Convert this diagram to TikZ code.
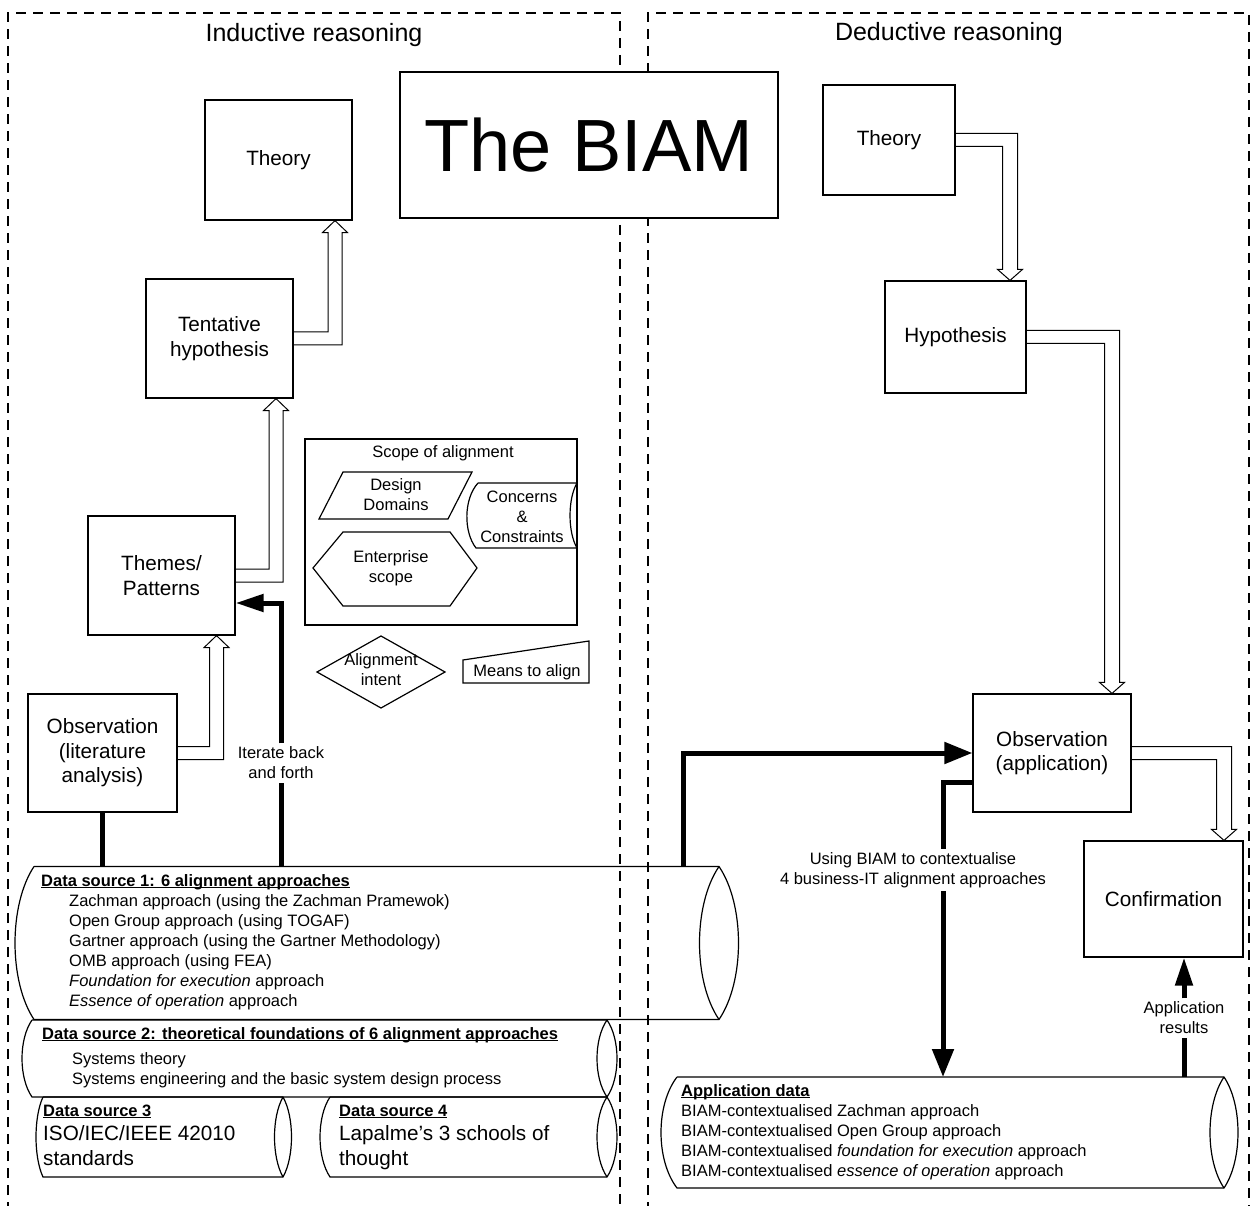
\documentclass[tikz,border=0pt]{standalone}
\usepackage{fontspec}
\setmainfont{Liberation Sans}
\usetikzlibrary{calc, arrows.meta}
\newcommand{\dsfont}{\fontsize{16.5}{20}\selectfont}
\newcommand{\boxfont}{\fontsize{20.7}{24.5}\selectfont}
\newcommand{\reasonfont}{\fontsize{25}{30}\selectfont}
\newcommand{\biamfont}{\fontsize{74}{80}\selectfont}
\newcommand{\ulbf}[1]{\setbox0\hbox{\bfseries #1}\rlap{\rule[-2.3pt]{\wd0}{1.2pt}}\box0}
% horizontal drum: node, left bulge, right bulge
\newcommand{\drumoutline}[3]{%
  \draw[line width=1.2pt] (#1.north west) -- (#1.north east)
    .. controls ($(#1.north east)!0.25!(#1.south east)+(1.333*#3,0)$)
       and ($(#1.north east)!0.75!(#1.south east)+(1.333*#3,0)$) .. (#1.south east)
    -- (#1.south west)
    .. controls ($(#1.south west)!0.25!(#1.north west)+(-1.333*#2,0)$)
       and ($(#1.south west)!0.75!(#1.north west)+(-1.333*#2,0)$) .. (#1.north west);
  \draw[line width=1.2pt] (#1.north east)
    .. controls ($(#1.north east)!0.25!(#1.south east)+(-1.333*#3,0)$)
       and ($(#1.north east)!0.75!(#1.south east)+(-1.333*#3,0)$) .. (#1.south east);}
% hollow arrows: source, target, x of shaft
\newcommand{\hollowup}[3]{%
  \draw[line width=1pt] let \p1=(#1.east), \p2=(#2.south) in
    (\x1,\y1+6.5pt) -- (#3pt-7pt,\y1+6.5pt) -- (#3pt-7pt,\y2-12pt)
    -- (#3pt-12.5pt,\y2-12pt) -- (#3pt,\y2) -- (#3pt+12.5pt,\y2-12pt)
    -- (#3pt+7pt,\y2-12pt) -- (#3pt+7pt,\y1-6.5pt) -- (\x1,\y1-6.5pt);}
\newcommand{\hollowdown}[3]{%
  \draw[line width=1pt] let \p1=(#1.east), \p2=(#2.north) in
    (\x1,\y1+6.5pt) -- (#3pt+7.5pt,\y1+6.5pt) -- (#3pt+7.5pt,\y2+11pt)
    -- (#3pt+12.5pt,\y2+11pt) -- (#3pt,\y2) -- (#3pt-12.5pt,\y2+11pt)
    -- (#3pt-7.5pt,\y2+11pt) -- (#3pt-7.5pt,\y1-6.5pt) -- (\x1,\y1-6.5pt);}
\tikzset{
  box/.style={draw, line width=1.2pt, fill=white, align=center, font=\boxfont, inner sep=0pt},
  panel/.style={line width=2pt, dash pattern=on 10pt off 7pt},
  heavy/.style={line width=5pt},
  note/.style={font=\dsfont, align=center},
  dsline/.style={anchor=base west, inner sep=0pt, font=\dsfont},
  bigline/.style={anchor=base west, inner sep=0pt, font=\boxfont},
  drum/.style={inner sep=0pt, outer sep=0pt},
  scopepart/.style={draw, line width=1.2pt},
  >={Triangle[length=28pt,width=21pt]},
}

\begin{document}
\begin{tikzpicture}[x=1pt, y=-1pt]
  \useasboundingbox (0,0) rectangle (1251,1206);
  % reasoning panels
  \draw[panel] (8,1212) -- (8,13) -- (620,13) -- (620,1212);
  \draw[panel] (648,1212) -- (648,13) -- (1249,13) -- (1249,1212);
  \node[font=\reasonfont] (induct) at (314,35) {Inductive reasoning};
  \node[font=\reasonfont] (deduct) at (949,34) {Deductive reasoning};
  \node[box, font=\biamfont, minimum width=378pt, minimum height=146pt] (biam) at (589,145) {The BIAM};

  % inductive side
  \node[box, minimum width=147pt, minimum height=120pt] (theoryL) at (278.5,160) {Theory};
  \node[box, minimum width=147pt, minimum height=119pt] (tent) at (219.5,338.5) {Tentative\\hypothesis};
  \node[box, minimum width=147pt, minimum height=119pt] (themes) at (161.5,575.5) {Themes/\\Patterns};
  \node[box, minimum width=149pt, minimum height=118pt] (obsL) at (102.5,753) {Observation\\(literature\\analysis)};
  \hollowup{tent}{theoryL}{335}
  \hollowup{themes}{tent}{276}
  \hollowup{obsL}{themes}{216.5}

  % deductive side
  \node[box, minimum width=132pt, minimum height=110pt] (theoryR) at (889,140) {Theory};
  \node[box, minimum width=141pt, minimum height=112pt] (hypo) at (955.5,337) {Hypothesis};
  \node[box, minimum width=158pt, minimum height=118pt] (obsR) at (1052,753) {Observation\\(application)};
  \node[box, minimum width=159pt, minimum height=116pt] (confirm) at (1163.5,899) {Confirmation};
  \hollowdown{theoryR}{hypo}{1010}
  \hollowdown{hypo}{obsR}{1112}
  \hollowdown{obsR}{confirm}{1224}

  % scope of alignment
  \node[box, minimum width=272pt, minimum height=186pt] (scope) at (441,532) {};
  \node[note] (scopetitle) at (443,453) {Scope of alignment};
  \draw[scopepart] (343,472) -- (472,472) -- (448,519) -- (319,519) -- cycle;
  \node[note] (domains) at (396,495) {Design\\Domains};
  \draw[scopepart] (478,483) -- (577,483) .. controls (567.7,499) and (567.7,532) .. (577,548)
    -- (476,548) .. controls (463.5,532) and (463.5,499) .. (478,483);
  \node[note] (concerns) at (522,517) {Concerns\\\&\\Constraints};
  \draw[scopepart] (313,568) -- (343,532) -- (450,532) -- (477,568) -- (450,606) -- (343,606) -- cycle;
  \node[note] (entscope) at (391,568) {Enterprise\\scope};
  \draw[scopepart] (317,672) -- (381,636) -- (445,672) -- (381,708) -- cycle;
  \node[note] (intent) at (381,670) {Alignment\\intent};
  \draw[scopepart] (463,660) -- (589,641) -- (589,683) -- (463,683) -- cycle;
  \node[note] (means) at (527,672) {Means to align};

  % data sources
  \node[drum, minimum width=575pt, minimum height=77pt] (ds2) at (319.5,1058.5) {};
  \node[drum, minimum width=240pt, minimum height=80pt] (ds3) at (163,1137) {};
  \node[drum, minimum width=277pt, minimum height=80pt] (ds4) at (468.5,1137) {};
  \node[drum, minimum width=685pt, minimum height=153pt] (ds1) at (376.5,943) {};
  \node[drum, minimum width=547pt, minimum height=111pt] (appdata) at (950.5,1132.5) {};
  \drumoutline{ds2}{10}{10}
  \drumoutline{ds3}{7}{8.5}
  \drumoutline{ds4}{10}{10}
  \drumoutline{ds1}{19}{19.5}
  \drumoutline{appdata}{16}{14}

  \node[dsline] (ds1-0) at (41,886) {\ulbf{Data source 1: 6 alignment approaches}};
  \foreach \txt [count=\i] in {Zachman approach (using the Zachman Pramewok),
      Open Group approach (using TOGAF), Gartner approach (using the Gartner Methodology),
      OMB approach (using FEA), {\textit{Foundation for execution} approach},
      {\textit{Essence of operation} approach}}
    \node[dsline] (ds1-\i) at (69,886+20*\i) {\txt};
  \node[dsline] (ds2-0) at (42,1039) {\ulbf{Data source 2: theoretical foundations of 6 alignment approaches}};
  \foreach \txt [count=\i] in {Systems theory, Systems engineering and the basic system design process}
    \node[dsline] (ds2-\i) at (72,1044+20*\i) {\txt};
  \node[dsline] (ds3-0) at (43,1116) {\ulbf{Data source 3}};
  \node[bigline] (ds3-1) at (43,1140.5) {ISO/IEC/IEEE 42010};
  \node[bigline] (ds3-2) at (43,1165.5) {standards};
  \node[dsline] (ds4-0) at (339,1116) {\ulbf{Data source 4}};
  \node[bigline] (ds4-1) at (339,1140.5) {Lapalme's 3 schools of};
  \node[bigline] (ds4-2) at (339,1165.5) {thought};
  \node[dsline] (app-0) at (681,1096) {\ulbf{Application data}};
  \foreach \txt [count=\i] in {BIAM-contextualised Zachman approach,
      BIAM-contextualised Open Group approach,
      {BIAM-contextualised \textit{foundation for execution} approach},
      {BIAM-contextualised \textit{essence of operation} approach}}
    \node[dsline] (app-\i) at (681,1096+20*\i) {\txt};

  % heavy connectors
  \node[note] (iter) at (281,763) {Iterate back\\and forth};
  \coordinate (iterturn) at (281,603);
  \draw[heavy] (ds1.north -| iter) -- (iter.south);
  \draw[heavy, -{Triangle[length=28pt,width=17pt]}] (iter.north) -- (iterturn) -- (iterturn -| themes.east);
  \draw[heavy] (obsL.south) -- (obsL.south |- ds1.north);
  \coordinate (feed) at (683,753);
  \draw[heavy, ->] (ds1.north -| feed) -- (feed) -- (obsR.west);
  \node[note] (using) at (913,870) {Using BIAM to contextualise\\4 business-IT alignment approaches};
  \coordinate (useturn) at (943,782);
  \draw[heavy] (useturn -| obsR.west) -- (useturn) -- (useturn |- using.north);
  \draw[heavy, ->] (useturn |- using.south) -- (useturn |- appdata.north);
  \node[note] (results) at (1184,1018) {Application\\results};
  \draw[heavy] (appdata.north -| results) -- (results.south);
  \draw[heavy, -{Triangle[length=28pt,width=17pt]}] (results.north) -- (results.north |- confirm.south);
\end{tikzpicture}
\end{document}
